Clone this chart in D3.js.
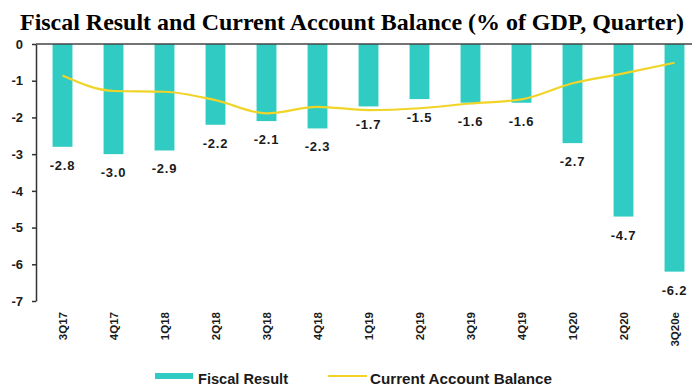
<!DOCTYPE html>
<html>
<head>
<meta charset="utf-8">
<script src="https://cdn.jsdelivr.net/npm/d3@7"></script>
<style>
  html, body { margin: 0; padding: 0; background: #fff; }
  svg { display: block; }
  text { font-family: "Liberation Sans", Arial, sans-serif; }
</style>
</head>
<body>
<svg id="chart" width="696" height="387"></svg>
<script>
// Quarterly fiscal result and current account balance, % of GDP
const quarters = ["3Q17","4Q17","1Q18","2Q18","3Q18","4Q18","1Q19","2Q19","3Q19","4Q19","1Q20","2Q20","3Q20e"];
const fiscalResult = [-2.8, -3.0, -2.9, -2.2, -2.1, -2.3, -1.7, -1.5, -1.6, -1.6, -2.7, -4.7, -6.2];
const currentAccount = [-0.86, -1.28, -1.3, -1.53, -1.89, -1.71, -1.8, -1.75, -1.62, -1.51, -1.07, -0.8, -0.51];
const yTicks = [0, -1, -2, -3, -4, -5, -6, -7];

const svg = d3.select("#chart");
const plotLeft = 36, plotRight = 700, plotTop = 44, plotBottom = 301;
const barColor = "#30cbc3", lineColor = "#f0d428", ink = "#1a1a1a";

const x = d3.scaleBand().domain(quarters).range([plotLeft + 1, plotRight]).paddingInner(0.61).paddingOuter(0.305);
const y = d3.scaleLinear().domain([0, -7]).range([plotTop, plotBottom]);

// Title
svg.append("text")
  .attr("x", 352).attr("y", 30)
  .attr("text-anchor", "middle")
  .style("font-family", "'Liberation Serif', 'Times New Roman', serif")
  .style("font-weight", "bold")
  .style("font-size", "24px")
  .attr("textLength", 664)
  .attr("lengthAdjust", "spacingAndGlyphs")
  .text("Fiscal Result and Current Account Balance (% of GDP, Quarter)");

// Bars
svg.append("g").selectAll("rect")
  .data(fiscalResult)
  .join("rect")
  .attr("x", (d, i) => x(quarters[i]))
  .attr("y", y(0))
  .attr("width", x.bandwidth())
  .attr("height", d => y(d) - y(0))
  .attr("fill", barColor);

// Value labels under bars
svg.append("g").selectAll("text")
  .data(fiscalResult)
  .join("text")
  .attr("x", (d, i) => x(quarters[i]) + x.bandwidth() / 2)
  .attr("y", d => y(d) + 23)
  .attr("text-anchor", "middle")
  .style("font-weight", "bold")
  .style("font-size", "13px")
  .style("letter-spacing", "0.8px")
  .style("fill", ink)
  .text(d => d.toFixed(1));

// Current account line
const line = d3.line()
  .x((d, i) => x(quarters[i]) + x.bandwidth() / 2)
  .y(d => y(d))
  .curve(d3.curveMonotoneX);
svg.append("path")
  .datum(currentAccount)
  .attr("d", line)
  .attr("fill", "none")
  .attr("stroke", lineColor)
  .attr("stroke-width", 2.2);

// Y axis
const yAxis = svg.append("g")
  .attr("transform", `translate(${plotLeft},0)`)
  .call(d3.axisLeft(y).tickValues(yTicks).tickFormat(d => String(d)).tickSize(4).tickSizeOuter(0));
yAxis.select(".domain").attr("stroke", "#333").attr("stroke-width", 1.5);
yAxis.selectAll(".tick line").attr("stroke", "#333").attr("stroke-width", 1.5);
yAxis.selectAll(".tick text")
  .attr("x", -13)
  .style("font-family", "'Liberation Sans', Arial, sans-serif")
  .style("font-weight", "bold")
  .style("font-size", "13px")
  .style("fill", ink);

// Zero line
svg.append("line")
  .attr("x1", plotLeft).attr("x2", 692)
  .attr("y1", y(0)).attr("y2", y(0))
  .attr("stroke", "#444").attr("stroke-width", 1.5);

// Category labels, rotated
svg.append("g").selectAll("text")
  .data(quarters)
  .join("text")
  .attr("transform", d => `translate(${x(d) + x.bandwidth() / 2 + 4},312) rotate(-90)`)
  .attr("text-anchor", "end")
  .style("font-weight", "bold")
  .style("font-size", "11.5px")
  .style("fill", ink)
  .text(d => d);

// Legend
const legend = svg.append("g");
legend.append("rect").attr("x", 155).attr("y", 373).attr("width", 38).attr("height", 6).attr("fill", barColor);
legend.append("text").attr("x", 198).attr("y", 384)
  .attr("textLength", 90).attr("lengthAdjust", "spacingAndGlyphs")
  .style("font-weight", "bold").style("font-size", "14px").style("fill", ink).text("Fiscal Result");
legend.append("line").attr("x1", 328).attr("x2", 367).attr("y1", 376).attr("y2", 376)
  .attr("stroke", lineColor).attr("stroke-width", 2.2);
legend.append("text").attr("x", 370).attr("y", 384)
  .attr("textLength", 182).attr("lengthAdjust", "spacingAndGlyphs")
  .style("font-weight", "bold").style("font-size", "14px").style("fill", ink).text("Current Account Balance");
</script>
</body>
</html>
